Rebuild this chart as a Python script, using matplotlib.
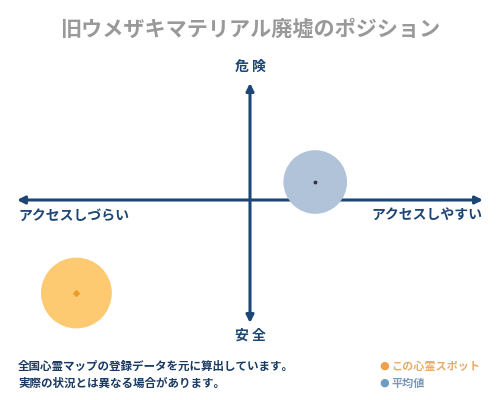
import matplotlib
matplotlib.use("Agg")
import matplotlib.pyplot as plt

plt.rcParams['font.family'] = ['Noto Sans CJK JP', 'DejaVu Sans']

# ポジションデータ（-1〜1の正規化座標）
title = "旧ウメザキマテリアル廃墟のポジション"
axis_top = "危 険"
axis_bottom = "安 全"
axis_left = "アクセスしづらい"
axis_right = "アクセスしやすい"

spot_xy = (-0.745, -0.775)     # この心霊スポット
avg_xy = (0.28, 0.15)          # 平均値
spot_size = 2600
avg_size = 2100

note_lines = ["全国心霊マップの登録データを元に算出しています。",
              "実際の状況とは異なる場合があります。"]
legend_labels = ["この心霊スポット", "平均値"]

navy = '#1d4675'
orange_fill = '#fdca72'
orange_dot = '#eb9b2a'
blue_fill = '#b0c3d9'

fig = plt.figure(figsize=(5, 4), dpi=100)
fig.patch.set_facecolor('white')

ax = fig.add_axes([17 / 500, 77 / 400, 466 / 500, 240 / 400])
ax.set_xlim(-1, 1)
ax.set_ylim(-1.025, 0.975)
ax.axis('off')

arrow = dict(arrowstyle='<|-|>', color=navy, lw=2.2, mutation_scale=11,
             shrinkA=0, shrinkB=0)
ax.annotate('', xy=(-1, 0), xytext=(1, 0), arrowprops=arrow)
ax.annotate('', xy=(0, -1.025), xytext=(0, 0.975), arrowprops=arrow)

ax.scatter([avg_xy[0]], [avg_xy[1]], s=avg_size, color=blue_fill,
           edgecolors='none', zorder=3, clip_on=False)
ax.scatter([avg_xy[0]], [avg_xy[1]], s=3, color='#333333', zorder=4,
           clip_on=False)
ax.scatter([spot_xy[0]], [spot_xy[1]], s=spot_size, color=orange_fill,
           edgecolors='none', zorder=3, clip_on=False)
ax.scatter([spot_xy[0]], [spot_xy[1]], s=8, color=orange_dot, marker='D',
           zorder=4, clip_on=False)

fig.text(0.5, 1 - 29 / 400, title, ha='center', va='center',
         fontsize=15.2, color='#999999', fontweight='bold')
fig.text(0.5, 1 - 67 / 400, axis_top, ha='center', va='center',
         fontsize=10, color=navy, fontweight='bold')
fig.text(0.5, 1 - 336 / 400, axis_bottom, ha='center', va='center',
         fontsize=10, color=navy, fontweight='bold')
fig.text(18 / 500, 1 - 216 / 400, axis_left, ha='left', va='center',
         fontsize=10, color=navy, fontweight='bold')
fig.text(482 / 500, 1 - 216 / 400, axis_right, ha='right', va='center',
         fontsize=10, color=navy, fontweight='bold')

for i, line in enumerate(note_lines):
    fig.text(18 / 500, 1 - (366 + 17 * i) / 400, line, ha='left',
             va='center', fontsize=8.3, color='#1a3a63', fontweight='bold')

fig.text(384 / 500, 1 - 366 / 400, '●', ha='center', va='center',
         fontsize=8, color='#f0a04a', family=['DejaVu Sans'])
fig.text(391 / 500, 1 - 366 / 400, legend_labels[0], ha='left', va='center',
         fontsize=8, color='#e8ac6a', fontweight='bold')
fig.text(384 / 500, 1 - 383 / 400, '●', ha='center', va='center',
         fontsize=8, color='#6d9bc3', family=['DejaVu Sans'])
fig.text(391 / 500, 1 - 383 / 400, legend_labels[1], ha='left', va='center',
         fontsize=8, color='#7b98b8', fontweight='bold')

fig.savefig('out.png', dpi=100, facecolor='white')
